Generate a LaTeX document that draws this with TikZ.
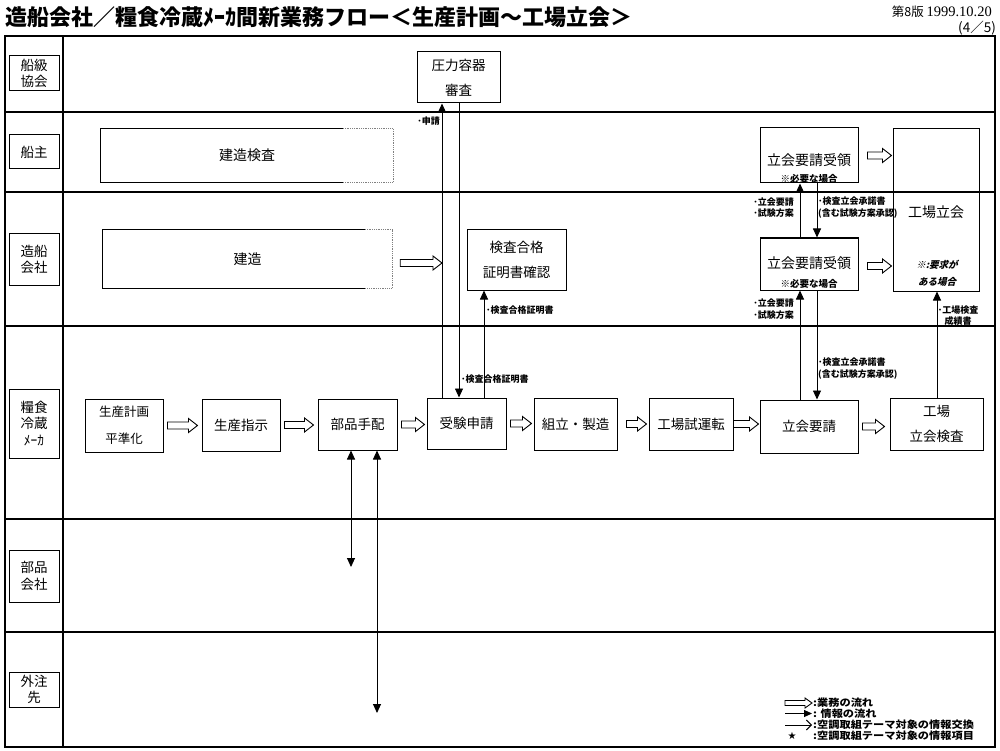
\documentclass[tikz,border=0pt]{standalone}
\usepackage{fontspec}
\setmainfont{Noto Sans CJK JP}
\newfontfamily\jpsl[FakeSlant=0.25]{Noto Sans CJK JP}
\newfontfamily\serifnum{Liberation Serif}
\newfontfamily\sym{DejaVu Sans}
\usetikzlibrary{arrows.meta,calc}

\tikzset{
  lane/.style={line width=1.1pt},
  lanelabel/.style={draw, line width=1pt, minimum width=50pt, align=center, inner sep=0pt,
    font=\fontsize{13.5}{16.5}\selectfont},
  box/.style={draw, line width=1pt, align=center, inner sep=0pt,
    font=\fontsize{13.5}{25}\selectfont},
  boxtext/.style={inner sep=0pt, align=center, font=\fontsize{14}{25}\selectfont},
  info/.style={line width=0.9pt, -{Triangle[width=8pt,length=9pt]}},
  infobi/.style={line width=0.9pt, {Triangle[width=8pt,length=9pt]}-{Triangle[width=8pt,length=9pt]}},
  note/.style={inner sep=0pt, align=left, font=\bfseries\fontsize{9}{11.5}\selectfont},
  legnote/.style={inner sep=0pt, anchor=west, xscale=1.12, transform shape,
    font=\bfseries\fontsize{10}{10}\selectfont},
  smallnote/.style={inner sep=0pt, align=center, font=\bfseries\fontsize{9.5}{17}\selectfont},
  flow/.style n args={3}{line width=0.9pt, to path={let \p1=(\tikztostart), \p2=(\tikztotarget) in
    (\x1,\y1+#1) -- (\x2-#3,\y1+#1) -- (\x2-#3,\y1+#2) -- (\x2,\y1) -- (\x2-#3,\y1-#2)
    -- (\x2-#3,\y1-#1) -- (\x1,\y1-#1) -- cycle}},
  bigflow/.style={flow={3.5pt}{7pt}{9pt}},
  legflow/.style={flow={2.5pt}{5pt}{7pt}},
}

\begin{document}
\begin{tikzpicture}[x=1pt,y=-1pt]
\useasboundingbox (0,0) rectangle (1000,751);

% title
\node[anchor=west, inner sep=0pt, font=\bfseries\fontsize{22}{22}\selectfont] (title) at (5,17)
  {造船会社／糧食冷蔵ﾒｰｶ間新業務フロー＜生産計画～工場立会＞};
\node[anchor=east, inner sep=0pt, font=\fontsize{12.5}{12.5}\selectfont] (date) at (992,12)
  {第8版 {\serifnum\fontsize{14.5}{14.5}\selectfont 1999.10.20}};
\node[anchor=east, inner sep=0pt, font=\fontsize{13.5}{13.5}\selectfont] (page) at (996,28) {(4／5)};

% frame and lanes
\draw[line width=1.3pt] (5,36) rectangle (995,747);
\draw[lane] (63,36) -- (63,747);
\foreach \yy in {112,192,326,519,632} \draw[lane] (5,\yy) -- (995,\yy);

% lane labels
\node[lanelabel, minimum height=35pt] (l1) at (34,73.5) {船級\\協会};
\node[lanelabel, minimum height=34pt] (l2) at (34,152) {船主};
\node[lanelabel, minimum height=51pt] (l3) at (34,259.5) {造船\\会社};
\node[lanelabel, minimum height=69pt] (l4) at (34,423.5) {糧食\\冷蔵\\ﾒｰｶ};
\node[lanelabel, minimum height=52pt] (l5) at (34,576) {部品\\会社};
\node[lanelabel, minimum height=35pt] (l6) at (34,689.5) {外注\\先};

% 船級協会
\node[box, minimum width=83pt, minimum height=51pt] (pv) at (458.5,77.5) {圧力容器\\審査};

% 船主
\node[inner sep=0pt, minimum width=292pt, minimum height=53pt, font=\fontsize{14}{16}\selectfont] (kk) at (247,155.5) {建造検査};
\coordinate (kkx) at (343,0);
\draw[line width=1pt] (kk.north -| kkx) -- (kk.north west) -- (kk.south west) -- (kk.south -| kkx);
\draw[line width=0.8pt, densely dotted, gray] (kk.north -| kkx) -- (kk.north east) -- (kk.south east) -- (kk.south -| kkx);

\node[box, minimum width=98pt, minimum height=55pt] (tuk1) at (809,155.5) {};
\node[boxtext] (tuk1t) at (809,160) {立会要請受領};
\node[smallnote] (tuk1n) at (809,178.5) {※必要な場合};

\node[box, minimum width=86pt, minimum height=162pt] (kojo) at (936,210) {};
\node[boxtext] (kojot) at (936,212) {工場立会};
\node[smallnote, font=\jpsl\bfseries\fontsize{9.5}{17}\selectfont] (kojon) at (937,273.5) {※:要求が\\ある場合};

% 造船会社
\node[inner sep=0pt, minimum width=289pt, minimum height=58pt, font=\fontsize{14}{16}\selectfont] (kz) at (247.5,259) {建造};
\coordinate (kzx) at (365,0);
\draw[line width=1pt] (kz.north -| kzx) -- (kz.north west) -- (kz.south west) -- (kz.south -| kzx);
\draw[line width=0.8pt, densely dotted, gray] (kz.north -| kzx) -- (kz.north east) -- (kz.south east) -- (kz.south -| kzx);

\node[box, minimum width=99pt, minimum height=60pt] (kg) at (516.5,260) {検査合格\\証明書確認};

\node[box, minimum width=98pt, minimum height=52pt] (tuk2) at (809,264) {};
\node[boxtext] (tuk2t) at (809,263) {立会要請受領};
\node[smallnote] (tuk2n) at (809,283.5) {※必要な場合};

% 糧食冷蔵メーカ
\node[box, minimum width=78pt, minimum height=53pt, font=\fontsize{12.5}{27}\selectfont] (sk) at (124,425.5) {生産計画\\平準化};
\node[box, minimum width=78pt, minimum height=52pt] (ss) at (241,425) {生産指示};
\node[box, minimum width=79pt, minimum height=51pt] (bh) at (357.5,424.5) {部品手配};
\node[box, minimum width=79pt, minimum height=51pt] (jk) at (466.5,423.5) {受験申請};
\node[box, minimum width=83pt, minimum height=52pt] (ks) at (575.5,424) {組立・製造};
\node[box, minimum width=84pt, minimum height=52pt] (st) at (691,424) {工場試運転};
\node[box, minimum width=98pt, minimum height=53pt] (ty) at (809,426.5) {立会要請};
\node[box, minimum width=93pt, minimum height=52pt] (kt) at (936.5,424) {工場\\立会検査};

% business flow arrows
\draw[bigflow] ($(sk.east)+(4,0)$) to ($(ss.west)+(-4,0)$);
\draw[bigflow] ($(ss.east)+(4,0)$) to ($(bh.west)+(-4,0)$);
\draw[bigflow] ($(bh.east)+(4,0)$) to ($(jk.west)+(-2,0)$);
\draw[bigflow] ($(jk.east)+(4,0)$) to ($(ks.west)+(-2,0)$);
\draw[bigflow] ($(ks.east)+(9,0)$) to ($(st.west)+(-2,0)$);
\draw[bigflow] ($(st.east)+(0,0)$) to ($(ty.west)+(-1,0)$);
\draw[bigflow] ($(ty.east)+(4,0)$) to ($(kt.west)+(-5,0)$);
\draw[bigflow] ($(tuk1.east)+(9,0)$) to ($(kojo.west)+(-1,0)$);
\draw[bigflow] ($(tuk2.east)+(9,2)$) to ($(kojo.west)+(-1,0)$);

% information lines
\coordinate (xa) at (442,0);
\coordinate (xb) at (459,0);
\coordinate (xc) at (484,0);
\coordinate (xd) at (800,0);
\coordinate (xe) at (817,0);
\coordinate (xf) at (937,0);
\coordinate (xg) at (351,0);
\coordinate (xh) at (377,0);
\coordinate (yg) at (0,567);
\coordinate (yh) at (0,713);

\draw[bigflow] ($(kz.east)+(8,4)$) to (kz.east -| xa);

\draw[info] (jk.north -| xa) -- (pv.south -| xa);
\draw[info] (pv.south -| xb) -- (jk.north -| xb);
\draw[info] (jk.north -| xc) -- (kg.south -| xc);
\draw[info] (ty.north -| xd) -- (tuk2.south -| xd);
\draw[info] (tuk2.north -| xd) -- (tuk1.south -| xd);
\draw[info] (tuk1.south -| xe) -- (tuk2.north -| xe);
\draw[info] (tuk2.south -| xe) -- (ty.north -| xe);
\draw[info] (kt.north -| xf) -- (kojo.south -| xf);
\draw[infobi] (bh.south -| xg) -- (xg |- yg);
\draw[infobi] (bh.south -| xh) -- (xh |- yh);

% information labels
\node[note, anchor=east] (n1) at (440,121) {･申請};
\node[note, anchor=west] (n2) at (486,310) {･検査合格証明書};
\node[note, anchor=west] (n3) at (461,379) {･検査合格証明書};
\node[note, anchor=east] (n4) at (794,207.5) {･立会要請\\･試験方案};
\node[note, anchor=east] (n5) at (794,309) {･立会要請\\･試験方案};
\node[note, anchor=west] (n6) at (818,207.5) {･検査立会承諾書\\(含む試験方案承認)};
\node[note, anchor=west] (n7) at (818,368.5) {･検査立会承諾書\\(含む試験方案承認)};
\node[note, align=center] (n8) at (958,315.5) {･工場検査\\成績書};

% legend
\coordinate (la1) at (785,703); \coordinate (lb1) at (812,703);
\coordinate (la2) at (785,713.5); \coordinate (lb2) at (812,713.5);
\coordinate (la3) at (785,725); \coordinate (lb3) at (812,725);
\draw[legflow] (la1) to (lb1);
\draw[line width=0.9pt, -{Triangle[width=7pt,length=8pt]}] (la2) -- (lb2);
\draw[line width=0.9pt, -{Straight Barb[length=5pt,width=10pt]}] (la3) -- (lb3);
\node[inner sep=0pt, font=\sym\fontsize{10}{10}\selectfont] (lstar) at (792,736) {★};
\node[legnote] (lt1) at (813,703) {:業務の流れ};
\node[legnote] (lt2) at (813,713.5) {: 情報の流れ};
\node[legnote] (lt3) at (813,725) {:空調取組テーマ対象の情報交換};
\node[legnote] (lt4) at (813,736) {:空調取組テーマ対象の情報項目};
\end{tikzpicture}
\end{document}
